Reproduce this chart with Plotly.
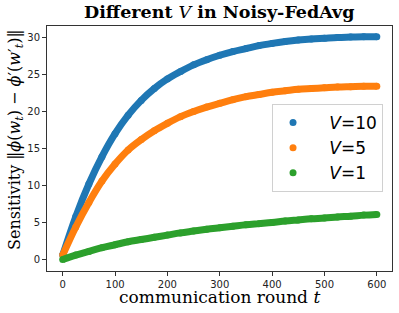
import plotly.graph_objects as go

rounds = [0, 25, 50, 75, 100, 125, 150, 175, 200, 225, 250, 275, 300,
          325, 350, 375, 400, 425, 450, 475, 500, 525, 550, 575, 600]
v10 = [0.6, 5.8, 10.2, 13.9, 17.0, 19.5, 21.5, 23.1, 24.4, 25.4, 26.3, 27.0, 27.6,
       28.1, 28.5, 28.9, 29.2, 29.45, 29.65, 29.8, 29.9, 30.0, 30.05, 30.1, 30.1]
v5 = [0.6, 4.4, 7.7, 10.6, 12.9, 14.8, 16.2, 17.4, 18.4, 19.3, 20.0, 20.6, 21.1,
      21.6, 22.0, 22.3, 22.6, 22.8, 23.0, 23.1, 23.2, 23.3, 23.35, 23.4, 23.4]
v1 = [0.0, 0.6, 1.1, 1.6, 2.0, 2.4, 2.7, 3.0, 3.3, 3.6, 3.85, 4.1, 4.3,
      4.5, 4.7, 4.85, 5.0, 5.2, 5.35, 5.5, 5.6, 5.75, 5.85, 6.0, 6.1]
series_names = ["<i>V</i>=10", "<i>V</i>=5", "<i>V</i>=1"]
series_vals = [v10, v5, v1]
colors = ["#1f77b4", "#ff7f0e", "#2ca02c"]
xticks = [0, 100, 200, 300, 400, 500, 600]
yticks = [0, 5, 10, 15, 20, 25, 30]

fig = go.Figure()
for name, vals, c in zip(series_names, series_vals, colors):
    fig.add_trace(go.Scatter(x=rounds, y=vals, mode="lines+markers",
                             line=dict(color=c, width=7, shape="spline"),
                             marker=dict(color=c, size=7),
                             showlegend=False, hoverinfo="skip"))
nb = "\u00a0\u00a0\u00a0"
for name, c in zip(series_names, colors):
    fig.add_trace(go.Scatter(x=[None], y=[None], mode="markers", name=nb + name,
                             marker=dict(color=c, size=7)))

axis_common = dict(showline=True, linecolor="#333", linewidth=1, mirror=True,
                   ticks="outside", ticklen=4, tickcolor="#333", showgrid=False,
                   zeroline=False, automargin=False,
                   tickfont=dict(family="DejaVu Sans", size=10, color="#222"))

fig.update_layout(
    width=399, height=313,
    margin=dict(l=47, r=7, t=26, b=42, autoexpand=False),
    plot_bgcolor="white", paper_bgcolor="white",
    xaxis=dict(range=[-30, 629], tickvals=xticks, **axis_common),
    yaxis=dict(range=[-1.55, 31.55], tickvals=yticks, **axis_common),
    legend=dict(x=0.974, y=(271 - 148) / 245, xanchor="right", yanchor="middle",
                bgcolor="rgba(255,255,255,0.8)", bordercolor="#d0d0d0", borderwidth=1,
                font=dict(family="DejaVu Sans", size=17, color="black")),
    annotations=[
        dict(text="<b>Different </b><i>V</i><b> in Noisy-FedAvg</b>",
             font=dict(family="DejaVu Serif", size=17.5, color="black"),
             xref="paper", yref="paper", x=0.5, y=(271 - 12) / 245,
             xanchor="center", yanchor="middle", showarrow=False),
        dict(text="communication round <i>t</i>",
             font=dict(family="DejaVu Serif", size=17, color="black"),
             xref="paper", yref="paper", x=0.5, y=(271 - 297) / 245,
             xanchor="center", yanchor="middle", showarrow=False),
        dict(text="Sensitivity ‖<i>ϕ</i>(<i>w</i><sub><i>t</i></sub>) − <i>ϕ</i>′(<i>w</i>′<sub><i>t</i></sub>)‖",
             font=dict(family="DejaVu Serif", size=16, color="black"),
             xref="paper", yref="paper", x=(15 - 47) / 345, y=(271 - 140) / 245,
             xanchor="center", yanchor="middle", textangle=-90, showarrow=False),
    ],
)
fig.write_html("out.html", config={"displayModeBar": False},
               post_script="document.body.style.margin='0px';")
